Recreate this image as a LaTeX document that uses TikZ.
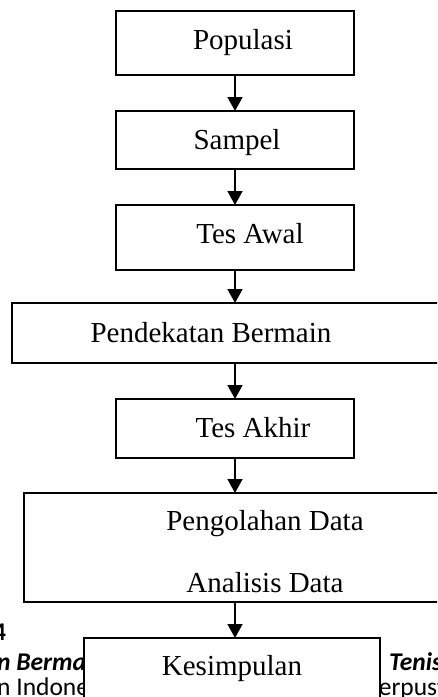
\documentclass[tikz,border=0pt]{standalone}
\usepackage{fontspec}
\setmainfont{Liberation Serif}
\newfontfamily\carl{Carlito}
\usetikzlibrary{arrows.meta}
\begin{document}
\begin{tikzpicture}[x=1pt,y=1pt,
  box/.style={draw, line width=1.5pt, inner sep=0pt, outer sep=0pt, fill=white},
  lbl/.style={anchor=base, inner sep=0pt, font=\fontsize{29}{34}\selectfont},
  frag/.style={anchor=base west, inner sep=0pt, font=\carl\fontsize{25.5}{30}\selectfont},
  fragbi/.style={anchor=base west, inner sep=0pt, font=\carl\bfseries\itshape\fontsize{25.5}{30}\selectfont},
  fragb/.style={anchor=base west, inner sep=0pt, font=\carl\bfseries\fontsize{25.5}{30}\selectfont},
  flow/.style={line width=1.6pt, -{Triangle[width=15pt,length=14pt]}}]
\useasboundingbox (0,0) rectangle (437,-697);
\clip (0,0) rectangle (437,-697);
% background fragments
\node[fragb] (f4) at (-7,-640) {4};
\node[fragbi] (f1) at (-3,-670) {n Bermain};
\node[frag] (f2) at (-3,-695) {n Indonesia};
\node[fragbi] (f3) at (389,-670) {Tenis};
\node[frag] (f5) at (366,-695) {Perpustakaan};
% boxes
\node[box, minimum width=238, minimum height=64] (pop) at (235,-43) {};
\node[box, minimum width=238, minimum height=58] (sam) at (235,-140) {};
\node[box, minimum width=238, minimum height=65] (ta) at (235,-237.5) {};
\node[box, minimum width=448, minimum height=60] (pend) at (236,-333) {};
\node[box, minimum width=238, minimum height=59] (tak) at (235,-428.5) {};
\node[box, minimum width=436, minimum height=109] (peng) at (242,-547.5) {};
\node[box, minimum width=296, minimum height=82] (kes) at (232,-679) {};
% labels
\node[lbl] (tpop) at (243,-49) {Populasi};
\node[lbl] (tsam) at (237,-149) {Sampel};
\node[lbl] (tta) at (250,-243) {Tes Awal};
\node[lbl] (tpend) at (211,-342) {Pendekatan Bermain};
\node[lbl] (ttak) at (253,-437) {Tes Akhir};
\node[lbl] (tpeng) at (265,-530) {Pengolahan Data};
\node[lbl] (tana) at (265,-592) {Analisis Data};
\node[lbl] (tkes) at (232,-675) {Kesimpulan};
% arrows
\draw[flow] (pop.south) -- (sam.north);
\draw[flow] (sam.south) -- (ta.north);
\draw[flow] (ta.south) -- (ta.south |- pend.north);
\draw[flow] (pend.south -| tak.north) -- (tak.north);
\draw[flow] (tak.south) -- (tak.south |- peng.north);
\draw[flow] (peng.south -| tak.south) -- (tak.south |- kes.north);
\end{tikzpicture}
\end{document}
